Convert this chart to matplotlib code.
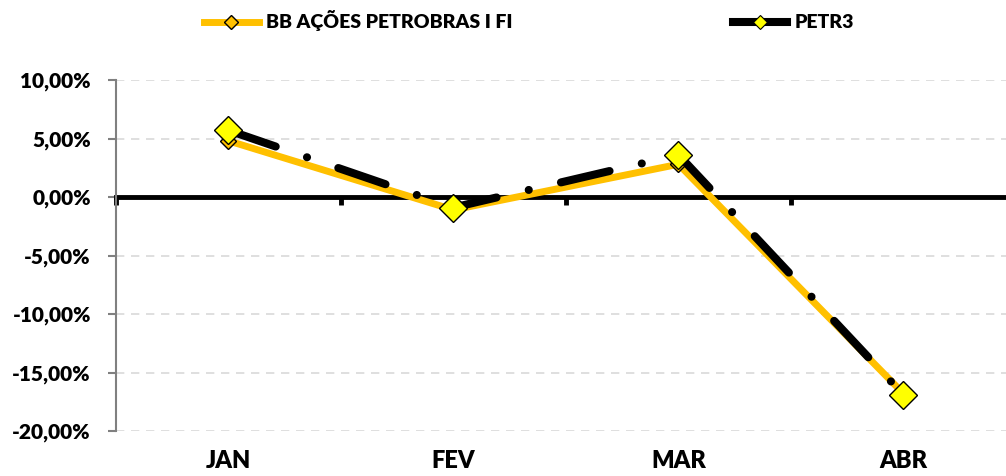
import numpy as np
import matplotlib.pyplot as plt
from matplotlib.ticker import FuncFormatter
from matplotlib.lines import Line2D

plt.rcParams['font.family'] = ['Lato', 'DejaVu Sans']
plt.rcParams['font.weight'] = 'heavy'

# data
months = ['JAN', 'FEV', 'MAR', 'ABR']
bb_acoes = [4.8, -1.1, 2.8, -16.8]
petr3 = [5.7, -0.9, 3.6, -16.9]

x = np.arange(len(months)) + 0.5

fig = plt.figure(figsize=(10.06, 4.76), dpi=100)
ax = fig.add_axes([0.1153, 0.0945, 0.8946, 0.7374])

# grid
for yv in [10, 5, -5, -10, -15, -20]:
    ax.axhline(yv, color='#d9d9d9', lw=1.2, ls=(0, (5, 4)), zorder=0)

ax.plot(x, bb_acoes, color='#FFC000', lw=5, solid_capstyle='round',
        marker='D', markersize=8, markerfacecolor='#FFC000',
        markeredgecolor='black', markeredgewidth=1, zorder=3)
ln, = ax.plot(x, petr3, color='black', lw=5.8, dash_capstyle='round',
              marker='D', markersize=14, markerfacecolor='#FFFF00',
              markeredgecolor='black', markeredgewidth=1, zorder=4)
ln.set_dashes([6.2, 4.1, 0.01, 4.1])

ax.set_xlim(0, 4)
ax.set_ylim(-20, 10)

# zero axis with tick marks at category boundaries
ax.spines['bottom'].set_position(('data', 0))
ax.spines['bottom'].set_linewidth(3.5)
ax.spines['bottom'].set_zorder(2)
ax.spines['top'].set_visible(False)
ax.spines['right'].set_visible(False)
ax.spines['left'].set_color('#808080')
ax.spines['left'].set_linewidth(1.5)
ax.set_xticks([0, 1, 2, 3])
ax.tick_params(axis='x', direction='out', length=6, width=3.5,
               color='black', labelbottom=False)

ax.set_yticks([10, 5, 0, -5, -10, -15, -20])
ax.yaxis.set_major_formatter(FuncFormatter(lambda v, p: f'{v:.2f}%'.replace('.', ',')))
ax.tick_params(axis='y', length=6, width=1.5, color='#808080', labelsize=15, pad=12)
for t in ax.get_yticklabels():
    t.set_fontweight('heavy')

# category labels below the plot
sec = ax.secondary_xaxis(0)
sec.set_xticks(x)
sec.set_xticklabels(months, fontsize=17, fontweight='heavy')
sec.tick_params(length=0, pad=14)
sec.spines['bottom'].set_visible(False)

handles = [
    Line2D([], [], color='#FFC000', lw=5, marker='D', markersize=7,
           markerfacecolor='#FFC000', markeredgecolor='black', markeredgewidth=1),
    Line2D([], [], color='black', lw=5.8, marker='D', markersize=7,
           markerfacecolor='#FFFF00', markeredgecolor='black', markeredgewidth=0.8),
]
fig.legend(handles, ['BB AÇÕES PETROBRAS I FI', 'PETR3'], loc='upper center',
           bbox_to_anchor=(0.526, 1.015), ncol=2, frameon=False, handlelength=2.8,
           handletextpad=0.4, columnspacing=11.3,
           prop={'weight': 'heavy', 'size': 14})

fig.savefig('out.png', dpi=100)
